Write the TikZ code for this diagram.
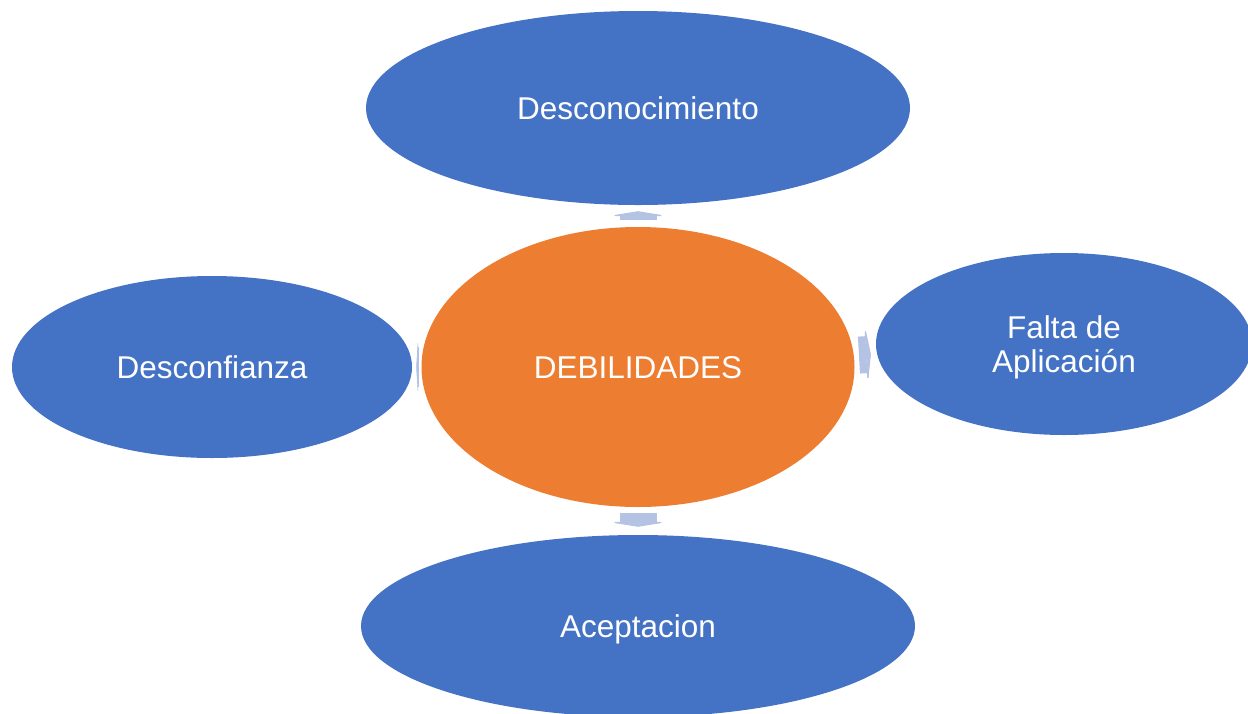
\documentclass[tikz,border=0pt]{standalone}
\usepackage{fontspec}
\setmainfont{Liberation Sans}
\usetikzlibrary{shapes.geometric,arrows.meta}
\definecolor{nodeblue}{HTML}{4472C4}
\definecolor{nodeorange}{HTML}{ED7D31}
\definecolor{arrowblue}{HTML}{B4C3E4}
\tikzset{
  bubble/.style={ellipse, fill=nodeblue, draw=none, inner sep=0pt, text=white,
    align=center, text depth=0pt, font=\fontsize{31.5}{34}\selectfont},
  hub/.style={bubble, fill=nodeorange},
  blockarrow/.style={draw=arrowblue, line width=37pt,
    -{Triangle[width=62pt,length=5pt]}, arrowblue},
}
\begin{document}
\begin{tikzpicture}[x=1pt,y=-1pt]
\useasboundingbox (0,0) rectangle (1248,713);
\clip (0,0) rectangle (1248,713);
\node[hub, minimum width=433pt, minimum height=280pt] (c) at (638,367) {DEBILIDADES};
\node[bubble, minimum width=544pt, minimum height=194pt] (t) at (638,108) {Desconocimiento};
\node[bubble, minimum width=400pt, minimum height=182pt] (l) at (212,367) {Desconfianza};
\node[bubble, minimum width=376pt, minimum height=182pt] (r) at (1064,344) {Falta de\\Aplicación};
\node[bubble, minimum width=554pt, minimum height=182pt] (b) at (638,626) {Aceptacion};
\draw[blockarrow, shorten <=7pt, shorten >=6pt] (c.north) -- (t.south);
\draw[blockarrow, shorten <=6pt, shorten >=8pt] (c.south) -- (b.north);
\draw[blockarrow, shorten <=5pt, shorten >=6pt] (c) -- (r);
\draw[draw=arrowblue, line width=40pt, -{Triangle[width=64pt,length=2pt]}, shorten <=3pt, shorten >=4pt] (c.west) -- (l.east);
\end{tikzpicture}
\end{document}
